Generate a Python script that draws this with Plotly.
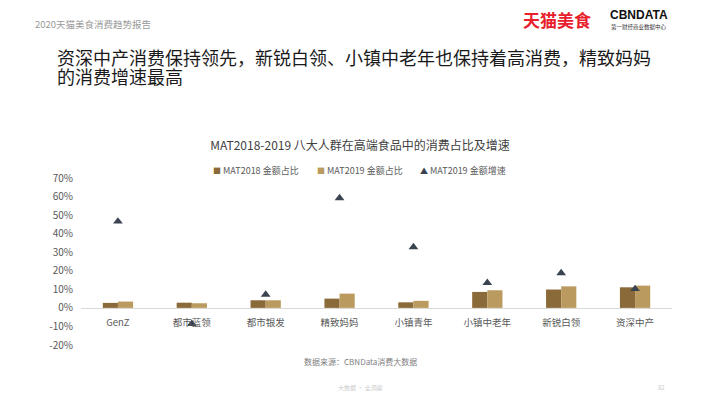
import plotly.graph_objects as go

categories = ["GenZ", "都市蓝领", "都市银发", "精致妈妈", "小镇青年", "小镇中老年", "新锐白领", "资深中产"]
share_2018 = [2.7, 2.8, 4.1, 5.0, 3.0, 8.6, 9.9, 11.1]
share_2019 = [3.4, 2.5, 4.1, 7.7, 3.8, 9.5, 11.6, 12.0]
growth_2019 = [46.6, -8.6, 7.2, 59.2, 32.8, 13.5, 18.8, 10.2]
y_tick_vals = [-20, -10, 0, 10, 20, 30, 40, 50, 60, 70]
y_tick_text = ["-20%", "-10%", "0%", "10%", "20%", "30%", "40%", "50%", "60%", "70%"]
series_names = ["MAT2018 金额占比", "MAT2019 金额占比", "MAT2019 金额增速"]
series_colors = ["#8B6A3A", "#BA9A5E", "#3A4350"]

FONT = "Noto Sans CJK SC"
W, H = 720, 405
L, R, T, B = 81, 672, 178, 345.4


def px(x):
    return (x - L) / (R - L)


def py(y):
    return (B - y) / (B - T)


fig = go.Figure()
fig.add_trace(go.Bar(x=categories, y=share_2018, name=series_names[0],
                     marker=dict(color=series_colors[0], line=dict(width=0))))
fig.add_trace(go.Bar(x=categories, y=share_2019, name=series_names[1],
                     marker=dict(color=series_colors[1], line=dict(width=0))))
fig.add_trace(go.Scatter(x=categories, y=growth_2019, name=series_names[2], mode="markers",
                         marker=dict(symbol="triangle-up", size=8.5, color=series_colors[2])))


def ann(x, y, text, size, color, family=FONT, xanchor="left"):
    return dict(x=px(x), y=py(y), xref="paper", yref="paper", text=text, showarrow=False,
                xanchor=xanchor, yanchor="middle", font=dict(family=family, size=size, color=color))


annotations = [
    ann(33, 24, "2020天猫美食消费趋势报告", 9.5, "#9a9a9a"),
    ann(521, 19, "<b>天猫美食</b>", 17, "#E8202C"),
    ann(639, 15, "<b>CBNDATA</b>", 12, "#111111", family="Liberation Sans", xanchor="center"),
    ann(639, 27, "第一财经商业数据中心", 5.5, "#333333", xanchor="center"),
    ann(55, 56.5, "资深中产消费保持领先，新锐白领、小镇中老年也保持着高消费，精致妈妈", 18, "#1a1a1a"),
    ann(55, 75.5, "的消费增速最高", 18, "#1a1a1a"),
    ann(360, 362, "数据来源：CBNData消费大数据", 8, "#808080", xanchor="center"),
    ann(360, 388, "大数据 · 全洞察", 6, "#cccccc", xanchor="center"),
    ann(661, 388, "82", 6, "#cccccc", xanchor="center"),
]

# legend drawn as text entries (symbol glyph + series name)
legend_x = [211, 315, 418]
legend_glyph = ["■", "■", "▲"]
for lx, g, c, n in zip(legend_x, legend_glyph, series_colors, series_names):
    annotations.append(ann(lx, 170, f"<span style='color:{c};font-size:8px'>{g}</span> {n}", 9, "#595959"))

fig.update_layout(
    width=W, height=H,
    margin=dict(l=L, r=W - R, t=T, b=H - B, pad=0),
    paper_bgcolor="white", plot_bgcolor="white",
    barmode="group", bargap=0.59, bargroupgap=0,
    showlegend=False,
    title=dict(text="MAT2018-2019 八大人群在高端食品中的消费占比及增速", x=0.5, xref="container",
               y=1 - 146 / H, yref="container", xanchor="center", yanchor="middle",
               font=dict(family=FONT, size=12, color="#404040")),
    annotations=annotations,
    font=dict(family=FONT),
    xaxis=dict(anchor="free", position=20 / 90, showline=True, linecolor="#D9D9D9", linewidth=1,
               showgrid=False, ticks="", tickfont=dict(family=FONT, size=9.5, color="#595959"),
               ticklabelstandoff=6),
    yaxis=dict(anchor="free", position=0, range=[-20, 70], tickvals=y_tick_vals, ticktext=y_tick_text,
               showgrid=False, zeroline=False, showline=False, ticks="",
               tickfont=dict(family=FONT, size=10, color="#595959"), ticklabelstandoff=8),
)

fig.write_html("out.html", config={"displayModeBar": False},
               post_script="document.body.style.margin='0';")
